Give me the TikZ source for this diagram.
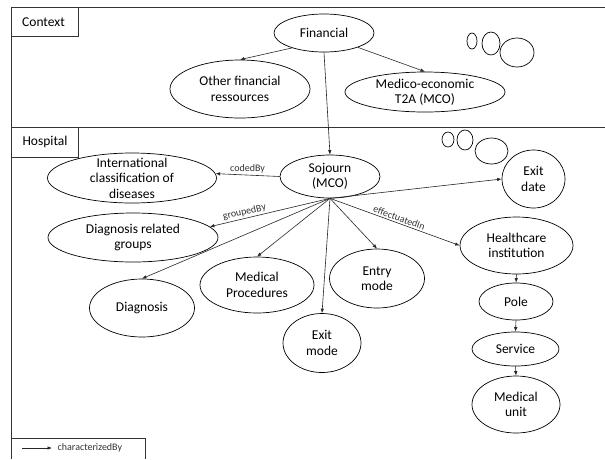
\documentclass[tikz,border=0pt]{standalone}
\usepackage{fontspec}
\setmainfont{Carlito}
\usetikzlibrary{shapes.geometric,arrows.meta}
\newcommand\enode[6]{%
  \node[ell,minimum width={2*#4pt},minimum height={2*#5pt}] (#1) at (#2,#3) {};
  \node[etext] (#1-t) at (#1.center) {#6};}
\begin{document}
\begin{tikzpicture}[x=1pt,y=-1pt,
  ell/.style={draw,ellipse,inner sep=0pt,line width=0.7pt},
  etext/.style={align=center,inner sep=0pt,font=\fontsize{13.5}{15.5}\selectfont},
  rel/.style={draw=black!85,line width=0.6pt,-{Latex[length=4.5pt,width=3.5pt]}},
  lbl/.style={font=\fontsize{10}{12}\selectfont,text=black!80,inner sep=1.5pt},
  frame/.style={draw=black!80,line width=0.7pt},
  title/.style={font=\fontsize{13.5}{15.5}\selectfont,inner sep=0pt}]
\useasboundingbox (0,0) rectangle (605,459);
% frames
\draw[frame] (605,7) -- (11,7) -- (11,459);
\draw[frame] (11,127) -- (605,127);
\draw[frame] (11,7) rectangle (78,36);
\draw[frame] (11,127) rectangle (78,157);
\node[title] (ctx) at (43.5,22) {Context};
\node[title] (hosp) at (45,142) {Hospital};
% legend
\draw[frame] (11,438) -- (145,438) -- (145,459);
\coordinate (lga) at (22,448);
\coordinate (lgb) at (52,448);
\draw[rel] (lga) -- (lgb);
\node[lbl,anchor=west] (lgt) at (56,448) {characterizedBy};
% decorative circles
\draw[line width=0.7pt] (472,41) ellipse [x radius=5pt,y radius=8pt];
\draw[line width=0.7pt] (491,43.5) ellipse [x radius=9pt,y radius=11.5pt];
\draw[line width=0.7pt] (517,52.5) ellipse [x radius=17pt,y radius=14.5pt];
\draw[line width=0.7pt] (448,139.5) ellipse [x radius=6pt,y radius=7.5pt];
\draw[line width=0.7pt] (465,140) ellipse [x radius=8pt,y radius=10pt];
\draw[line width=0.7pt] (491.5,151) ellipse [x radius=16.5pt,y radius=13pt];
% nodes
\enode{fin}{324}{33}{50}{19}{Financial}
\enode{oth}{240}{89}{70}{29}{Other financial\\ressources}
\enode{med}{425}{92}{80}{20}{Medico-economic\\T2A (MCO)}
\enode{soj}{330}{176.5}{50}{21.5}{Sojourn\\(MCO)}
\enode{icd}{132}{178}{84.5}{25}{International\\classification of\\diseases}
\enode{drg}{133}{237.5}{85}{24.5}{Diagnosis related\\groups}
\enode{dia}{142}{308}{52.5}{29}{Diagnosis}
\enode{mp}{257}{285}{57}{28}{Medical\\Procedures}
\enode{exm}{322}{343}{39}{29.5}{Exit\\mode}
\enode{ent}{377}{278.5}{47.5}{29.5}{Entry\\mode}
\enode{exd}{533.5}{179}{31.5}{29}{Exit\\date}
\enode{hc}{516.5}{245.5}{56.5}{28.5}{Healthcare\\institution}
\enode{pole}{516}{301.5}{37}{18.5}{Pole}
\enode{serv}{515.5}{349}{43.5}{17}{Service}
\enode{mu}{516}{404.5}{44}{28.5}{Medical\\unit}
% connectors
\draw[rel] (fin.205) -- (oth.north);
\draw[rel] (fin.337) -- (med.north);
\draw[rel] (fin.south) -- (soj.north);
\draw[rel] (soj.west) -- node[lbl,above] (lcod) {codedBy} (icd.3);
\draw[rel] (soj.south) -- node[lbl,above,sloped,pos=0.7] (lgrp) {groupedBy} (drg.8);
\draw[rel] (soj.south) -- (dia.north);
\draw[rel] (soj.south) -- (mp.north);
\draw[rel] (soj.south) -- (exm.north);
\draw[rel] (soj.south) -- (ent.north);
\draw[rel] (soj.south) -- node[lbl,above,sloped,pos=0.52] (leff) {effectuatedIn} (hc.west);
\draw[rel] (soj.south) -- (exd.west);
\draw[rel] (hc.south) -- (pole.north);
\draw[rel] (pole.south) -- (serv.north);
\draw[rel] (serv.south) -- (mu.north);
\end{tikzpicture}
\end{document}
